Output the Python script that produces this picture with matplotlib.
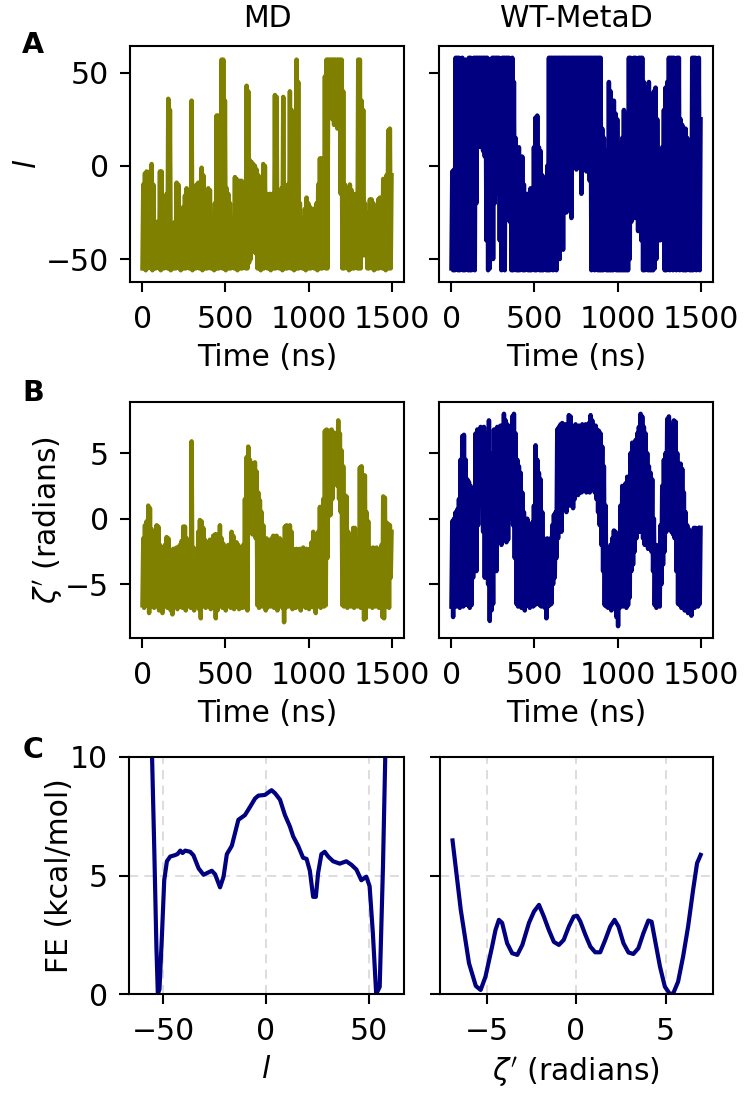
import numpy as np
import matplotlib
matplotlib.use("Agg")
from matplotlib import pyplot as plt

# ------------------------------------------------------------
# time series: per 10 ns bin, lower / upper envelope of the trace
# ------------------------------------------------------------
t_start, t_end = 0, 1500

md_l_hi = [-10, -4, -3, -30, -3, 1, -10, -35, -30, -32,
           -3, -3, -28, -30, -15, 36, 30, -38, -35, -30,
           -9, -10, -32, -26, -22, -16, -12, -13, -30, 35,
           -30, -35, -10, -9, -25, -1, -5, -30, -25, -12,
           -13, -28, -30, -20, 27, 27, -5, 57, 57, 35,
           -12, -15, -20, -38, -30, -6, -7, -25, -8, -8,
           -25, -20, 43, 40, 3, 2, 1, 0, -2, -5,
           -15, -10, 1, 0, -15, -20, -15, -18, -15, 38,
           37, -15, -18, -12, 37, -10, -25, -10, 40, 30,
           -20, -10, 57, 45, -20, -28, -30, -23, -17, -20,
           -22, -27, -23, -25, -20, -10, 4, 4, -5, 48,
           57, 57, 57, 57, 57, 57, 57, 57, 57, 57,
           40, -10, -12, -15, -10, -13, -15, -18, -15, 57,
           57, 35, 30, -20, -25, -30, -18, -18, -20, -30,
           -27, -18, -17, -20, -7, -7, -5, 19, 20, -5]
md_l_lo = [-55, -55, -56, -55, -54, -55, -56, -55, -55, -54,
           -55, -56, -55, -55, -54, -55, -55, -56, -55, -55,
           -55, -54, -55, -56, -55, -55, -55, -54, -55, -55,
           -56, -55, -55, -54, -55, -55, -56, -55, -55, -55,
           -54, -55, -55, -56, -55, -55, -55, -54, -55, -55,
           -56, -55, -55, -55, -54, -55, -55, -56, -55, -55,
           -55, -54, -55, -55, -52, -50, -46, -42, -47, -55,
           -55, -56, -55, -55, -54, -55, -55, -56, -55, -55,
           -55, -54, -55, -55, -56, -55, -55, -55, -54, -55,
           -55, -56, -55, -55, -55, -54, -55, -55, -56, -55,
           -55, -55, -54, -55, -55, -56, -55, -55, -55, -54,
           -55, -55, 30, 28, 25, 22, 22, 20, 20, -15,
           -55, -55, -54, -55, -56, -55, -55, -55, -54, -55,
           -55, -55, -48, -48, -48, -55, -55, -54, -55, -56,
           -55, -55, -55, -54, -55, -55, -56, -55, -55, -55]

wt_l_hi = [-3, -2, 58, 58, 58, 57, 58, 48, 57, 56,
           58, 58, 52, 58, 58, 58, 58, 58, 58, 58,
           58, 58, 57, 45, 58, 58, 58, 58, 58, 57,
           58, 58, 58, 58, 58, 57, 58, 45, 15, 8,
           10, -5, 5, -10, -18, -15, -23, -12, -15, 10,
           26, 27, 10, 8, -5, -15, -13, 0, 58, 58,
           58, 58, 58, 58, 58, 58, 58, 58, 58, 58,
           58, 58, 58, 58, 58, 58, 58, 58, 58, 58,
           58, 58, 58, 58, 58, 58, 58, 58, 58, 58,
           20, 15, 8, 0, 45, 40, 5, 35, 28, 25,
           12, 0, 15, 30, 28, 20, 58, 58, 55, 58,
           58, 57, 58, 58, 58, 45, 40, 42, 45, 38,
           38, 40, 42, 25, 0, 5, 10, 30, 42, 45,
           58, 58, 58, 58, 57, 58, 58, 25, 22, 18,
           20, 15, 0, 8, 58, 58, 58, 57, 58, 25]
wt_l_lo = [-55, -56, -56, -50, -56, -56, -45, -56, -56, -40,
           -56, -56, -56, -50, -56, -20, 10, 12, 10, 8,
           5, -40, -56, -55, -30, -50, -20, -15, -8, -40,
           -56, -45, -56, 0, 2, -30, -56, -56, -55, -56,
           -56, -56, -55, -56, -56, -55, -56, -56, -56, -55,
           -56, -56, -50, -56, -56, -56, -55, -56, -56, -56,
           -45, -56, -40, -56, -30, -50, -20, -45, -10, -25,
           -5, -8, -28, 5, 8, -2, 5, 10, -15, 0,
           6, -3, 2, -8, -56, -50, -56, -45, -56, -56,
           -56, -56, -55, -56, -56, -56, -56, -56, -55, -56,
           -56, -56, -56, -56, -56, -56, -56, -50, -30, -25,
           -28, -20, -35, -25, -40, -56, -56, -55, -56, -56,
           -56, -56, -55, -50, -30, -40, -35, -40, -56, -56,
           -50, -56, -45, -56, -48, -56, -55, -56, -52, -56,
           -56, -56, -55, -56, -56, -56, -55, -56, -50, -56]

md_z_hi = [-1.5, -0.5, -0.2, 1.0, 0.8, -0.8, -1.0, -2.5, -0.5, -0.6,
           -2.0, -2.2, -2.3, -2.0, -1.4, -1.5, -2.4, -2.5, -2.3, -2.3,
           -2.2, -2.2, -2.0, -1.7, -0.6, -0.6, -1.5, -2.3, -1.8, 5.9,
           -2.2, -2.3, -2.4, -1.0, -0.1, -0.2, -0.7, -1.6, -2.0, -1.8,
           -1.6, -2.3, -1.3, -1.2, -1.2, -1.6, -0.5, -1.5, -1.9, -2.3,
           -2.2, -2.0, -2.1, -1.0, -1.3, -2.3, -1.8, -2.0, -2.2, -2.3,
           -2.0, 1.5, 4.7, 5.5, 4.5, 4.2, 4.2, 4.3, 3.6, 2.0,
           1.4, 0.5, -0.5, -2.0, -1.5, -2.2, -2.5, -1.5, -1.3, -2.0,
           -1.3, -2.5, -1.5, -1.7, -2.2, -0.6, -0.5, -0.9, -0.5, -1.0,
           -2.3, -2.4, -2.3, -2.4, -2.3, -2.4, -2.2, -2.4, -2.3, -2.4,
           -2.3, -1.8, -1.0, -1.2, -2.0, -1.0, 0.9, 0.9, 1.5, 6.7,
           6.8, 6.7, 6.7, 6.8, 6.6, 6.5, 6.0, 7.5, 6.5, 5.2,
           4.0, 1.8, 1.7, -1.0, -2.2, -2.0, -0.7, -0.7, -2.2, -1.5,
           3.9, 4.0, 3.3, 3.3, 0.5, -0.2, -2.2, -2.3, -2.2, -2.3,
           -2.2, -2.6, -2.5, -2.0, 1.7, 1.6, -0.3, -0.4, -0.5, -1.0]
md_z_lo = [-6.6, -6.8, -6.5, -6.6, -7.2, -6.7, -6.6, -6.8, -6.6, -6.7,
           -7.0, -6.6, -7.2, -6.7, -6.5, -6.8, -6.6, -7.0, -7.3, -6.7,
           -6.6, -6.9, -6.6, -6.7, -6.8, -6.6, -7.0, -6.7, -6.6, -6.8,
           -6.6, -7.0, -6.7, -6.6, -6.9, -7.6, -6.7, -6.6, -6.8, -6.6,
           -6.7, -6.9, -6.6, -6.8, -7.6, -7.0, -6.7, -6.6, -6.8, -6.6,
           -7.0, -6.7, -6.6, -6.8, -6.6, -6.9, -6.6, -6.7, -6.9, -6.6,
           -6.8, -6.7, -6.8, -7.0, -1.0, -0.8, -1.2, -1.0, -1.5, -6.6,
           -6.8, -6.6, -6.7, -6.6, -7.0, -6.8, -6.6, -6.7, -6.6, -6.8,
           -6.6, -7.0, -6.7, -6.6, -6.8, -7.9, -6.8, -6.6, -6.7, -6.6,
           -6.9, -6.6, -6.8, -6.7, -6.6, -7.0, -6.7, -6.6, -6.8, -6.6,
           -6.9, -6.7, -6.6, -6.8, -7.2, -6.7, -6.6, -6.8, -6.6, -6.7,
           -6.6, -3.0, 0.2, 0.3, 1.5, 2.6, 2.8, 2.5, 1.5, 0.5,
           -6.6, -6.7, -6.6, -6.8, -6.6, -6.7, -6.6, -6.8, -6.6, -6.7,
           -6.6, -6.8, -5.0, -7.7, -7.6, -6.6, -6.7, -6.6, -6.8, -6.6,
           -6.7, -6.6, -6.8, -6.6, -7.5, -7.6, -6.7, -6.6, -6.8, -4.5]

wt_z_hi = [-0.2, 0.0, 0.5, 0.7, 1.5, 4.5, 6.3, 6.4, 4.5, 3.0,
           2.8, 2.5, 1.5, 0.0, 6.5, 6.8, 6.8, 7.0, 6.9, 7.0,
           5.5, 6.5, 7.5, 5.0, 4.0, 6.8, 6.8, 7.0, 7.0, 7.1,
           7.0, 8.0, 7.5, 7.2, 7.0, 6.5, 7.8, 8.0, 6.5, 4.5,
           4.0, 3.5, 2.0, 0.5, -0.5, 0.0, -1.5, -0.5, -0.3, 1.0,
           5.6, 4.5, 3.5, 3.0, 0.5, -1.5, -1.6, -1.5, -1.6, -1.5,
           -0.5, 0.3, 0.5, 6.8, 7.0, 7.2, 7.3, 7.0, 7.2, 7.1,
           7.9, 7.8, 7.1, 7.0, 7.2, 6.9, 7.1, 7.0, 7.2, 7.0,
           7.2, 7.1, 7.3, 7.9, 7.5, 7.0, 7.1, 6.8, 6.7, 6.5,
           5.5, 4.0, 1.0, -2.4, -2.4, -2.0, -1.5, -0.9, -1.0, -2.0,
           -2.3, 1.0, 2.5, 1.5, 2.7, 3.2, 2.0, 5.0, 5.8, 5.5,
           6.0, 6.5, 7.0, 8.0, 7.8, 7.0, 6.5, 5.0, 4.0, 3.5,
           3.0, 0.0, -2.0, -2.2, -2.0, -0.5, 2.5, 4.5, 5.0, 7.6,
           7.8, 7.0, 7.2, 7.5, 7.4, 5.0, 4.0, 4.2, 3.8, 2.0,
           0.5, -0.5, -0.8, -1.0, -1.5, -0.7, -0.7, -0.8, -0.7, -0.7]
wt_z_lo = [-6.7, -7.5, -6.6, -6.7, -6.6, -6.8, -6.6, -6.7, -6.6, -5.5,
           -6.6, -6.8, -6.6, -4.5, -3.0, -4.0, -0.5, 1.5, 1.0, -1.0,
           -4.5, -2.0, -5.0, -7.8, -7.0, -6.5, -3.5, -4.0, -1.5, -1.5,
           -2.0, -1.5, -1.0, -1.8, -1.6, 0.0, 0.2, -0.5, -3.0, -6.5,
           -6.7, -5.5, -6.8, -6.6, -7.0, -6.6, -6.5, -6.8, -6.6, -6.7,
           -6.6, -6.5, -6.0, -6.6, -6.7, -6.6, -6.8, -7.6, -6.7, -6.6,
           -6.5, -5.0, -4.5, -3.0, -1.5, 0.5, -1.0, 1.0, 2.0, 0.5,
           1.2, 1.0, 2.0, 0.8, 1.5, 2.0, 1.8, 2.2, 2.0, 2.1,
           2.3, 2.0, 2.2, 2.0, 2.4, 2.2, 2.0, 1.5, 0.5, -0.5,
           -2.0, -4.0, -6.6, -6.7, -6.8, -6.6, -7.0, -6.7, -6.6, -7.5,
           -8.2, -6.8, -6.6, -6.7, -6.6, -6.8, -6.6, -6.0, -4.0, -3.5,
           -2.5, -1.5, -1.0, -1.0, -0.5, -1.5, -2.0, -2.0, -2.3, -2.2,
           -2.5, -4.0, -6.6, -6.8, -6.6, -6.7, -5.0, -3.5, -2.5, -1.0,
           -0.5, -0.8, -1.0, -1.2, -1.5, -4.0, -6.5, -6.6, -6.8, -6.6,
           -7.0, -6.8, -7.2, -7.0, -7.4, -6.6, -6.8, -6.6, -6.7, -6.5]

# ------------------------------------------------------------
# free energy profiles
# ------------------------------------------------------------
fe_l = [-58, -55.3, -54.2, -53.2, -52.5, -51.7, -50.5, -49.4, -48.1, -46.5,
        -44.5, -43.0, -41.6, -40.5, -39.2, -36.8, -35.2, -32.7, -30.3, -28.7,
        -26.3, -24.7, -22.3, -20.6, -19.0, -16.6, -15.0, -13.4, -10.2, -7.7,
        -5.3, -3.7, -0.5, 1.1, 2.7, 4.4, 6.8, 9.2, 11.6, 13.2,
        15.6, 18.0, 19.7, 21.3, 22.9, 24.2, 25.3, 26.9, 28.5, 30.2,
        32.6, 35.8, 39.0, 41.5, 43.9, 46.3, 48.7, 50.3, 51.9, 53.5,
        55.2, 56.8, 57.9, 60]
fe_l_val = [16, 10, 6.0, 2.0, 0.0, 0.2, 2.5, 4.8, 5.6, 5.8,
            5.85, 5.9, 6.05, 5.95, 6.05, 6.0, 5.85, 5.3, 5.03, 5.1,
            5.2, 5.05, 4.5, 4.95, 5.9, 6.25, 6.8, 7.35, 7.55, 7.9,
            8.25, 8.37, 8.4, 8.5, 8.6, 8.47, 8.2, 7.55, 7.07, 6.65,
            6.25, 5.75, 5.7, 5.2, 4.1, 4.1, 5.1, 5.9, 6.0, 5.8,
            5.6, 5.5, 5.6, 5.45, 5.25, 4.8, 4.95, 4.55, 2.55, 0.0,
            0.3, 5.4, 10, 16]

fe_z = [-6.9, -6.44, -5.98, -5.6, -5.33, -5.06, -4.69, -4.5, -4.31, -4.13,
        -3.85, -3.57, -3.28, -3.0, -2.63, -2.35, -2.07, -1.8, -1.52, -1.24,
        -0.96, -0.69, -0.4, -0.13, 0.06, 0.24, 0.52, 0.8, 1.07, 1.35,
        1.63, 1.91, 2.15, 2.37, 2.65, 2.93, 3.2, 3.48, 3.76, 4.04,
        4.22, 4.41, 4.69, 4.96, 5.24, 5.43, 5.7, 5.98, 6.26, 6.54,
        6.76, 6.96]
fe_z_val = [6.48, 3.55, 1.3, 0.34, 0.17, 0.73, 2.0, 2.7, 3.13, 3.0,
            2.14, 1.72, 1.65, 2.07, 3.0, 3.48, 3.76, 3.27, 2.7, 2.2,
            2.07, 2.28, 2.85, 3.27, 3.3, 3.06, 2.5, 2.0, 1.76, 1.76,
            2.28, 2.85, 3.13, 2.85, 2.14, 1.75, 1.69, 1.93, 2.56, 3.1,
            3.05, 2.28, 1.15, 0.31, 0.0, 0.03, 0.52, 1.58, 2.85, 4.4,
            5.52, 5.87]

olive = '#808000'
navy = '#000080'

plt.rcParams['font.family'] = ['DejaVu Sans']
plt.rcParams['font.size'] = 21.5
plt.rcParams['axes.linewidth'] = 1.5
plt.rcParams['axes.labelpad'] = 6.5
plt.rcParams['xtick.major.size'] = 7.5
plt.rcParams['ytick.major.size'] = 7
plt.rcParams['xtick.major.width'] = 1.5
plt.rcParams['ytick.major.width'] = 1.5
plt.rcParams['xtick.major.pad'] = 9
plt.rcParams['ytick.major.pad'] = 8


def trace(lo, hi):
    # zigzag between the lower and upper envelope of each bin
    y = np.column_stack([lo, hi]).ravel()
    x = np.linspace(t_start, t_end, len(y))
    return x, y


fig = plt.figure(figsize=(7.5, 10.98), dpi=100)
W, H = 750.0, 1098.0


def box(x0, x1, y0, y1):
    return [x0 / W, 1 - y1 / H, (x1 - x0) / W, (y1 - y0) / H]


ax_a1 = fig.add_axes(box(130, 404, 46, 282))
ax_a2 = fig.add_axes(box(439, 713, 46, 282))
ax_b1 = fig.add_axes(box(130, 404, 402, 638))
ax_b2 = fig.add_axes(box(439, 713, 402, 638))
ax_c1 = fig.add_axes(box(129, 404, 757, 994))
ax_c2 = fig.add_axes(box(440, 713, 757, 994))

lw = 3.2
ax_a1.plot(*trace(md_l_lo, md_l_hi), color=olive, lw=lw)
ax_a2.plot(*trace(wt_l_lo, wt_l_hi), color=navy, lw=lw)
ax_b1.plot(*trace(md_z_lo, md_z_hi), color=olive, lw=lw)
ax_b2.plot(*trace(wt_z_lo, wt_z_hi), color=navy, lw=lw)

for ax in (ax_a1, ax_a2):
    ax.set_ylim(-62.3, 64.3)
    ax.set_yticks([-50, 0, 50])
for ax in (ax_b1, ax_b2):
    ax.set_ylim(-9.1, 8.9)
    ax.set_yticks([-5, 0, 5])
for ax in (ax_a1, ax_a2, ax_b1, ax_b2):
    ax.set_xlim(-75, 1575)
    ax.set_xticks([0, 500, 1000, 1500])
    ax.set_xlabel('Time (ns)')
for ax in (ax_a2, ax_b2, ax_c2):
    ax.set_yticklabels([])

ax_a1.set_ylabel('$l$', labelpad=3)
ax_b1.set_ylabel("$\\zeta'$ (radians)", labelpad=0)
ax_a1.set_title('MD', fontsize=21.5, pad=14)
ax_a2.set_title('WT-MetaD', fontsize=21.5, pad=14)

ax_c1.plot(fe_l, fe_l_val, color=navy, lw=3)
ax_c1.set_xlim(-66.5, 67)
ax_c1.set_xticks([-50, 0, 50])
ax_c1.set_xlabel('$l$')
ax_c1.set_ylabel('FE (kcal/mol)', labelpad=-2.5)

ax_c2.plot(fe_z, fe_z_val, color=navy, lw=3)
ax_c2.set_xlim(-7.6, 7.65)
ax_c2.set_xticks([-5, 0, 5])
ax_c2.set_xlabel("$\\zeta'$ (radians)")

for ax in (ax_c1, ax_c2):
    ax.set_ylim(0, 10)
    ax.set_yticks([0, 5, 10])
    ax.grid(True, color='#dadada', linestyle=(0, (5, 3.5)), linewidth=1.3)
    ax.set_axisbelow(True)

for letter, yy in (('A', 45), ('B', 393), ('C', 750)):
    fig.text(33 / W, 1 - yy / H, letter, fontsize=20.5, fontweight='bold',
             ha='center', va='center')

fig.savefig('out.png', dpi=100)
